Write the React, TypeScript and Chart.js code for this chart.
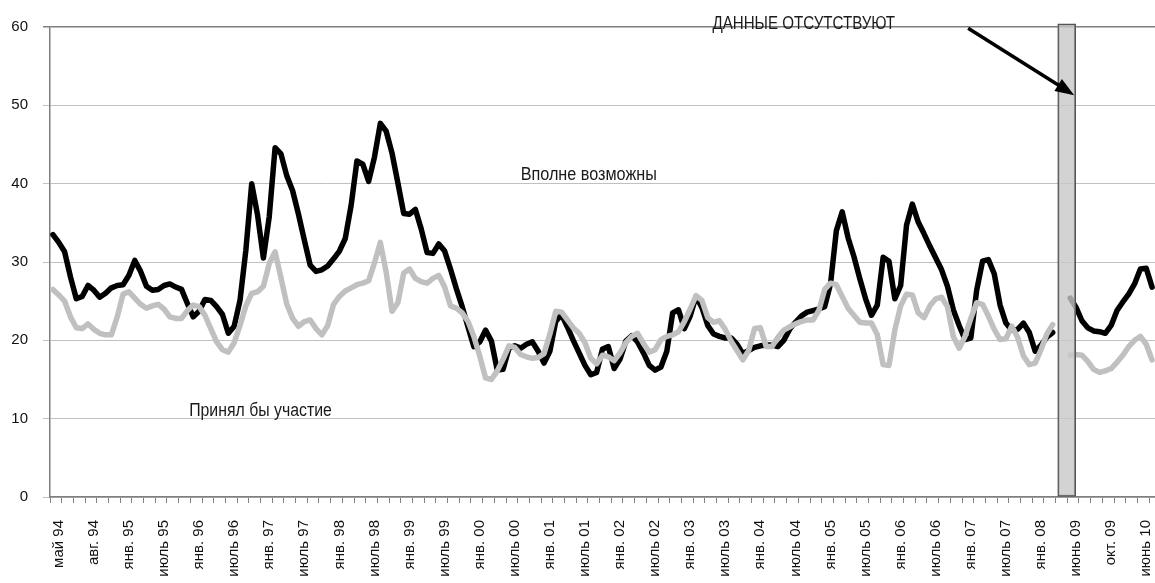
import React, { useEffect, useRef } from 'react';
import { Chart, registerables } from 'chart.js';

Chart.register(...registerables);

// Category axis: 94 categories, a label every 3rd category (at its centre)
const CATEGORY_COUNT = 94;
const LABEL_EVERY = 3;
// Series are sampled every half category
const SAMPLE_STEP = 0.5;

const tickLabels: string[] = [
  'май 94', 'авг. 94', 'янв. 95', 'июль 95', 'янв. 96', 'июль 96', 'янв. 97', 'июль 97',
  'янв. 98', 'июль 98', 'янв. 99', 'июль 99', 'янв. 00', 'июль 00', 'янв. 01', 'июль 01',
  'янв. 02', 'июль 02', 'янв. 03', 'июль 03', 'янв. 04', 'июль 04', 'янв. 05', 'июль 05',
  'янв. 06', 'июль 06', 'янв. 07', 'июль 07', 'янв. 08', 'июнь 09', 'окт. 09', 'июнь 10',
];

// "Вполне возможны" (black line)
const possibleSeries: (number | null)[] = [
  33.5, 32.5, 31.3, 28.1, 25.3, 25.6, 27.0, 26.4, 25.5, 26.0,
  26.7, 27.0, 27.1, 28.3, 30.2, 28.8, 26.9, 26.4, 26.5, 27.0,
  27.2, 26.8, 26.5, 24.7, 23.0, 23.7, 25.2, 25.1, 24.3, 23.3,
  20.9, 21.8, 25.1, 31.5, 40.0, 36.0, 30.5, 35.8, 44.6, 43.8,
  41.0, 39.1, 36.1, 32.8, 29.6, 28.8, 29.0, 29.5, 30.4, 31.4,
  33.0, 37.2, 42.9, 42.5, 40.3, 43.4, 47.7, 46.7, 43.9, 40.1,
  36.2, 36.1, 36.7, 34.2, 31.2, 31.1, 32.3, 31.4, 29.1, 26.6,
  24.3, 21.7, 19.2, 19.8, 21.3, 19.9, 16.2, 16.3, 19.0, 19.3,
  19.0, 19.5, 19.8, 18.6, 17.1, 18.6, 22.4, 23.3, 21.7, 20.0,
  18.4, 16.8, 15.6, 15.9, 18.9, 19.2, 16.4, 17.6, 19.9, 20.6,
  19.8, 18.4, 16.8, 16.2, 16.6, 18.6, 23.5, 23.9, 21.5, 23.1,
  25.6, 24.2, 21.9, 20.8, 20.5, 20.3, 20.3, 19.5, 18.3, 18.7,
  19.1, 19.3, 19.4, 19.4, 19.2, 20.0, 21.4, 22.3, 23.1, 23.6,
  23.8, 24.0, 24.3, 27.2, 34.0, 36.4, 33.1, 30.7, 27.9, 25.3,
  23.2, 24.5, 30.6, 30.1, 25.3, 27.0, 34.7, 37.4, 35.1, 33.6,
  32.0, 30.5, 29.0, 26.9, 23.9, 21.9, 20.1, 20.3, 26.4, 30.1,
  30.3, 28.5, 24.5, 22.2, 21.3, 21.4, 22.2, 21.0, 18.6, 19.4,
  20.4, 21.0, null, null, 25.4, 24.2, 22.5, 21.6, 21.2, 21.1,
  20.9, 21.9, 23.8, 24.9, 25.9, 27.2, 29.1, 29.2, 26.8,
];

// "Принял бы участие" (grey line)
const participateSeries: (number | null)[] = [
  26.5, 25.8, 25.0, 23.0, 21.6, 21.5, 22.1, 21.4, 20.9, 20.7,
  20.7, 23.0, 25.9, 26.2, 25.4, 24.6, 24.1, 24.4, 24.6, 24.0,
  23.0, 22.8, 22.8, 23.8, 24.5, 24.3, 23.2, 21.5, 19.8, 18.8,
  18.5, 19.7, 21.9, 24.4, 26.0, 26.2, 26.9, 29.8, 31.3, 28.0,
  24.6, 22.8, 21.8, 22.4, 22.6, 21.5, 20.7, 21.9, 24.6, 25.6,
  26.3, 26.7, 27.1, 27.3, 27.6, 29.9, 32.5, 28.7, 23.7, 24.8,
  28.6, 29.1, 27.9, 27.5, 27.3, 27.9, 28.3, 26.8, 24.4, 24.1,
  23.5, 22.4, 20.5, 18.0, 15.2, 15.0, 16.1, 17.6, 19.3, 19.1,
  18.2, 17.9, 17.7, 17.8, 18.3, 20.8, 23.7, 23.6, 22.6, 21.6,
  20.9, 19.7, 17.7, 17.0, 18.1, 17.9, 17.4, 18.4, 19.7, 20.5,
  20.9, 19.6, 18.5, 18.8, 20.1, 20.5, 20.7, 21.1, 22.4, 24.0,
  25.7, 25.1, 22.9, 22.3, 22.5, 21.4, 19.9, 18.7, 17.5, 18.7,
  21.5, 21.6, 19.2, 19.2, 20.4, 21.3, 21.7, 22.1, 22.4, 22.6,
  22.6, 23.8, 26.5, 27.3, 27.1, 25.6, 24.1, 23.2, 22.3, 22.2,
  22.2, 20.7, 16.9, 16.8, 21.3, 24.4, 25.9, 25.8, 23.5, 22.9,
  24.4, 25.3, 25.5, 24.3, 20.5, 19.0, 20.5, 22.8, 24.8, 24.6,
  23.1, 21.4, 20.1, 20.2, 21.8, 20.4, 18.0, 16.9, 17.1, 18.8,
  20.8, 22.0, null, null, 18.1, 18.2, 18.1, 17.3, 16.3, 15.9,
  16.1, 16.4, 17.2, 18.1, 19.2, 20.0, 20.5, 19.5, 17.5,
];

// Grey "no data" column (category position, height)
const noDataBar = [{ x: 86.7, y: 60.4 }];

// Text annotations, anchored in data units (category, value)
const annotations = [
  { text: 'ДАННЫЕ ОТСУТСТВУЮТ', x: 56.4, y: 59.75, stretch: 0.84 },
  { text: 'Вполне возможны', x: 40.0, y: 40.5, stretch: 0.9 },
  { text: 'Принял бы участие', x: 11.65, y: 10.4, stretch: 0.88 },
];
const arrow = { fromX: 78.27, fromY: 59.85, toX: 87.34, toY: 51.3 };

const TICK_FONT = '"Liberation Sans", Arial, sans-serif';

export default function App() {
  const ref = useRef<HTMLCanvasElement | null>(null);

  useEffect(() => {
    const canvas = ref.current;
    if (!canvas) return;
    const toPoints = (arr: (number | null)[]) => arr.map((v, i) => ({ x: i * SAMPLE_STEP, y: v }));

    const annotationPlugin = {
      id: 'textAnnotations',
      afterDatasetsDraw(chart: any) {
        const { ctx, scales } = chart;
        const xs = scales.x;
        const ys = scales.y;
        ctx.save();
        // arrow
        const x1 = xs.getPixelForValue(arrow.fromX);
        const y1 = ys.getPixelForValue(arrow.fromY);
        const x2 = xs.getPixelForValue(arrow.toX);
        const y2 = ys.getPixelForValue(arrow.toY);
        const ang = Math.atan2(y2 - y1, x2 - x1);
        const headLen = 19;
        const headHalf = 7;
        const bx = x2 - headLen * Math.cos(ang);
        const by = y2 - headLen * Math.sin(ang);
        ctx.strokeStyle = '#000';
        ctx.fillStyle = '#000';
        ctx.lineWidth = 3.5;
        ctx.lineCap = 'butt';
        ctx.beginPath();
        ctx.moveTo(x1, y1);
        ctx.lineTo(bx + 2 * Math.cos(ang), by + 2 * Math.sin(ang));
        ctx.stroke();
        ctx.beginPath();
        ctx.moveTo(x2, y2);
        ctx.lineTo(bx - headHalf * Math.sin(ang), by + headHalf * Math.cos(ang));
        ctx.lineTo(bx + headHalf * Math.sin(ang), by - headHalf * Math.cos(ang));
        ctx.closePath();
        ctx.fill();
        // texts
        ctx.font = '18px "Liberation Sans", Arial, sans-serif';
        ctx.textAlign = 'left';
        ctx.textBaseline = 'alphabetic';
        ctx.fillStyle = '#1a1a1a';
        annotations.forEach((a) => {
          const px = xs.getPixelForValue(a.x);
          const py = ys.getPixelForValue(a.y);
          ctx.save();
          ctx.translate(px, py);
          ctx.scale(a.stretch, 1);
          ctx.fillText(a.text, 0, 0);
          ctx.restore();
        });
        ctx.restore();
      },
    };

    const chart = new Chart(canvas, {
      type: 'line',
      data: {
        datasets: [
          {
            type: 'bar',
            label: 'Данные отсутствуют',
            data: noDataBar as any,
            backgroundColor: 'rgba(200,200,200,0.8)',
            borderColor: '#555555',
            borderWidth: 1.5,
            borderSkipped: false,
            barThickness: 18,
            order: 0,
            clip: false as any,
          } as any,
          {
            type: 'line',
            label: 'Принял бы участие',
            data: toPoints(participateSeries) as any,
            borderColor: '#c0c0c0',
            borderWidth: 5.5,
            pointRadius: 0,
            tension: 0,
            spanGaps: false,
            borderJoinStyle: 'round',
            borderCapStyle: 'round',
            order: 1,
          } as any,
          {
            type: 'line',
            label: 'Вполне возможны',
            data: toPoints(possibleSeries) as any,
            borderColor: '#000000',
            borderWidth: 5.5,
            pointRadius: 0,
            tension: 0,
            spanGaps: false,
            borderJoinStyle: 'round',
            borderCapStyle: 'round',
            order: 2,
          } as any,
        ],
      },
      options: {
        responsive: false,
        animation: false,
        events: [],
        layout: { padding: { top: 27, left: 0, right: 0, bottom: 0 } },
        plugins: {
          legend: { display: false },
          tooltip: { enabled: false },
        },
        scales: {
          x: {
            type: 'linear',
            min: 0,
            max: CATEGORY_COUNT,
            afterBuildTicks: (scale: any) => {
              const t: { value: number }[] = [];
              for (let v = 0; v <= CATEGORY_COUNT; v += 0.5) t.push({ value: v });
              scale.ticks = t;
            },
            afterFit: (scale: any) => {
              scale.height = 86;
              scale.paddingLeft = 0;
              scale.paddingRight = 0;
            },
            ticks: {
              autoSkip: false,
              minRotation: 90,
              maxRotation: 90,
              padding: 17,
              color: '#111111',
              font: { family: TICK_FONT, size: 15 },
              callback: (value: any) => {
                const k = (Number(value) - 0.5) / LABEL_EVERY;
                return Number.isInteger(k) && tickLabels[k] ? tickLabels[k] : '';
              },
            },
            grid: {
              drawOnChartArea: false,
              drawTicks: true,
              tickLength: 6,
              lineWidth: 1,
              color: (ctx: any) =>
                ctx.tick && Number.isInteger(ctx.tick.value) ? '#808080' : 'rgba(0,0,0,0)',
            },
            border: { display: true, color: '#7f7f7f', width: 1.5 },
          },
          y: {
            min: 0,
            max: 60,
            afterFit: (scale: any) => {
              scale.width = 50;
            },
            ticks: {
              stepSize: 10,
              padding: 15,
              color: '#111111',
              font: { family: TICK_FONT, size: 15 },
            },
            grid: {
              drawTicks: true,
              tickLength: 7,
              color: (ctx: any) => (ctx.tick && ctx.tick.value === 60 ? '#7f7f7f' : '#c0c0c0'),
              lineWidth: (ctx: any) => (ctx.tick && ctx.tick.value === 60 ? 1.5 : 1),
            },
            border: { display: true, color: '#7f7f7f', width: 1.5 },
          },
        },
      },
      plugins: [annotationPlugin],
    });

    return () => chart.destroy();
  }, []);

  return (
    <div style={{ position: 'fixed', left: 0, top: 0, width: 1155, height: 583, background: '#ffffff', overflow: 'hidden' }}>
      <canvas ref={ref} width={1155} height={583} style={{ display: 'block' }} />
    </div>
  );
}
